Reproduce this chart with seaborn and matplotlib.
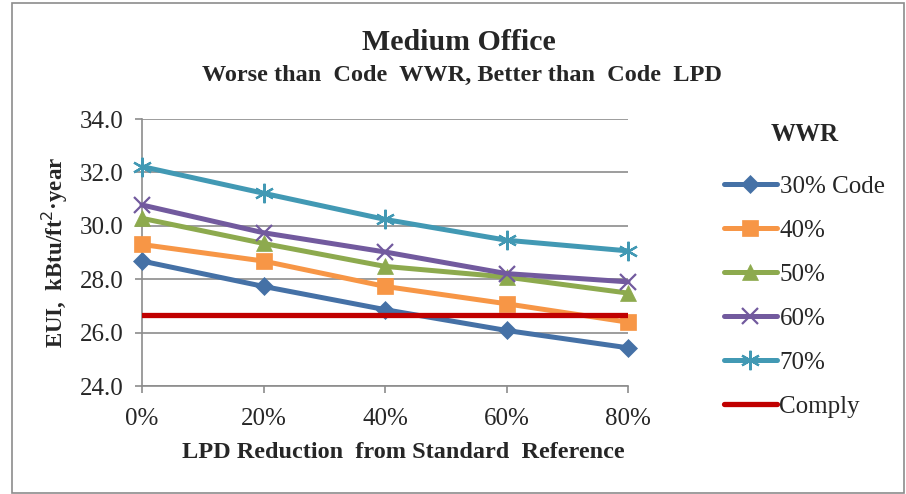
import matplotlib
matplotlib.use('Agg')
import matplotlib.pyplot as plt
import seaborn as sns
from matplotlib.patches import Rectangle

# data
lpd_reduction = [0, 20, 40, 60, 80]
x_tick_labels = ["0%", "20%", "40%", "60%", "80%"]
y_ticks = [24, 26, 28, 30, 32, 34]
wwr_30_code = [28.68, 27.73, 26.86, 26.08, 25.43]
wwr_40 = [29.30, 28.68, 27.73, 27.08, 26.39]
wwr_50 = [30.28, 29.34, 28.48, 28.08, 27.48]
wwr_60 = [30.78, 29.74, 29.02, 28.21, 27.90]
wwr_70 = [32.22, 31.22, 30.24, 29.46, 29.06]
comply = [26.65, 26.65, 26.65, 26.65, 26.65]
series_labels = ["30% Code", "40%", "50%", "60%", "70%", "Comply"]

sns.set_style("white")
plt.rcParams['font.family'] = ['Liberation Serif', 'DejaVu Serif']

fig = plt.figure(figsize=(9.06, 4.94), dpi=100)
ax = fig.add_axes([142 / 906, 1 - 386 / 494, 486 / 906, 267 / 494])

styles = [
    (wwr_30_code, "#4571A6", "D", 9.5, 0.5),
    (wwr_40, "#F79646", "s", 11, 0.5),
    (wwr_50, "#8DAA4E", "^", 12, 0.5),
    (wwr_60, "#725A9E", "x", 11, 1.6),
    (wwr_70, "#4299B4", (6, 2, 0), 14, 1.6),
]
for (vals, col, mk, ms, mew), lab in zip(styles, series_labels):
    sns.lineplot(x=lpd_reduction, y=vals, ax=ax, color=col, lw=3.6,
                 marker=mk, markersize=ms, mec=col, mfc=col, mew=mew,
                 label=lab, clip_on=False, zorder=3)
sns.lineplot(x=lpd_reduction, y=comply, ax=ax, color="#C00000", lw=3.8,
             label=series_labels[5], zorder=4)

ax.set_xlim(0, 80)
ax.set_ylim(24, 34)
ax.set_yticks(y_ticks)
ax.set_yticklabels([f"{v:.1f}" for v in y_ticks], fontsize=18)
ax.set_xticks(lpd_reduction)
ax.set_xticklabels(x_tick_labels, fontsize=18)
ax.yaxis.grid(True, color="#8c8c8c", lw=1.2)
ax.set_axisbelow(True)
for side in ["top", "right"]:
    ax.spines[side].set_visible(False)
for side in ["left", "bottom"]:
    ax.spines[side].set_color("#8c8c8c")
    ax.spines[side].set_linewidth(1.2)
ax.tick_params(axis="both", which="major", length=5, width=1.2, color="#8c8c8c",
               direction="out", left=True, bottom=True)
ax.tick_params(axis="y", pad=8)
ax.tick_params(axis="x", pad=11)

ax.set_xlabel("LPD Reduction  from Standard  Reference", fontsize=17.5,
              fontweight="bold")
ax.xaxis.set_label_coords((403 - 142) / 486, -(452 - 386) / 267)
ax.set_ylabel("EUI,  kBtu/ft$^2$·year", fontsize=16.5, fontweight="bold")
ax.yaxis.set_label_coords(-(142 - 55) / 486, 0.5)
ax.xaxis.label.set_va("center")
ax.yaxis.label.set_va("center")

fig.text(459 / 906, 1 - 42 / 494, "Medium Office", ha="center", va="center",
         fontsize=21.5, fontweight="bold")
fig.text(462 / 906, 1 - 75 / 494, "Worse than  Code  WWR, Better than  Code  LPD",
         ha="center", va="center", fontsize=17.5, fontweight="bold")

leg = ax.legend(loc="upper left", bbox_to_anchor=(724 / 906, 1 - 123 / 494),
                bbox_transform=fig.transFigure, frameon=False, fontsize=18,
                title="WWR", title_fontproperties={"weight": "bold", "size": 18},
                handlelength=2.1, handletextpad=0.12, labelspacing=0.86,
                borderpad=0, borderaxespad=0, numpoints=1)
leg._legend_box.sep = 21

fig.patches.append(Rectangle((12 / 906, 1 / 494), 892 / 906, 490 / 494,
                             transform=fig.transFigure, fill=False,
                             edgecolor="#8c8c8c", lw=1.2))

fig.savefig("out.png", dpi=100)
